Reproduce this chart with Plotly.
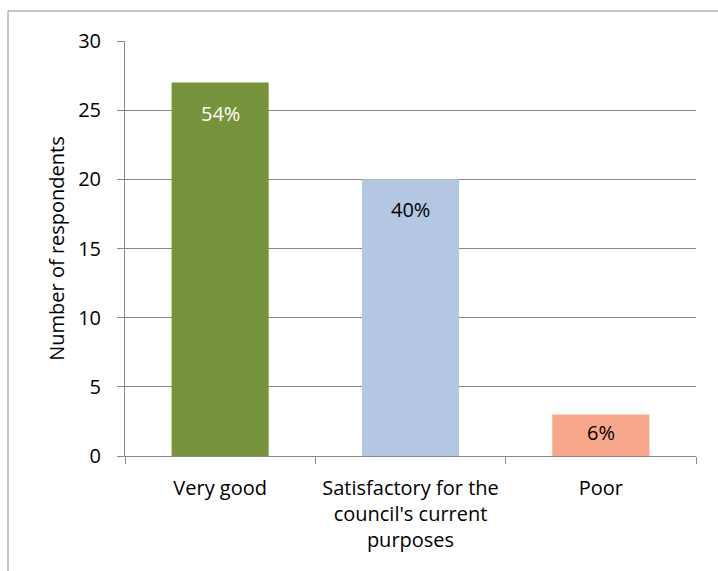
import plotly.graph_objects as go

categories = ["Very good", "Satisfactory for the<br>council's current<br>purposes", "Poor"]
respondents = [27, 20, 3]
percent_labels = ["54%", "40%", "6%"]
bar_colors = ["#77933C", "#B3C7E3", "#F9A78B"]
label_colors = ["white", "black", "black"]
label_shift = [-15, -15, -2]

FONT = "Open Sans"
FS = 20
GRID = "#878787"

fig = go.Figure()
fig.add_trace(go.Bar(
    x=categories, y=respondents,
    marker=dict(color=bar_colors, line=dict(width=0)),
    hoverinfo="skip",
))

for c, v, t, col, s in zip(categories, respondents, percent_labels, label_colors, label_shift):
    fig.add_annotation(x=c, y=v, text=t, showarrow=False, yanchor="top",
                       yshift=s, font=dict(family=FONT, size=FS, color=col))

W, H = 718, 571
ml, mr, mt, mb = 125, 22, 41, 115
pw, ph = W - ml - mr, H - mt - mb

# outer chart border
fig.add_shape(type="rect", xref="paper", yref="paper",
              x0=(8 - ml) / pw, x1=(W + 5 - ml) / pw,
              y0=-(H + 5 - (H - mb)) / ph, y1=((H - mb) - 11) / ph,
              line=dict(color="#8C8C8C", width=1), fillcolor="rgba(0,0,0,0)", layer="below")

fig.update_layout(
    width=W, height=H,
    margin=dict(l=ml, r=mr, t=mt, b=mb, pad=0, autoexpand=False),
    paper_bgcolor="white", plot_bgcolor="white",
    bargap=0.49,
    showlegend=False,
    font=dict(family=FONT, size=FS, color="black"),
    xaxis=dict(
        showline=True, linecolor=GRID, linewidth=1,
        ticks="outside", tickson="boundaries", ticklen=7, tickcolor=GRID,
        showgrid=False, ticklabelstandoff=14, tickangle=0, automargin=False,
        tickfont=dict(family=FONT, size=FS, color="black"),
    ),
    yaxis=dict(
        range=[0, 30], dtick=5, tick0=0,
        showline=True, linecolor=GRID, linewidth=1,
        ticks="outside", ticklen=7, tickcolor=GRID,
        showgrid=True, gridcolor=GRID, gridwidth=1,
        zeroline=False, ticklabelstandoff=12, automargin=False,
        tickfont=dict(family=FONT, size=FS, color="black"),
        title=dict(text="Number of respondents", standoff=8,
                   font=dict(family=FONT, size=FS, color="black")),
    ),
)

fig.write_html("out.html")
